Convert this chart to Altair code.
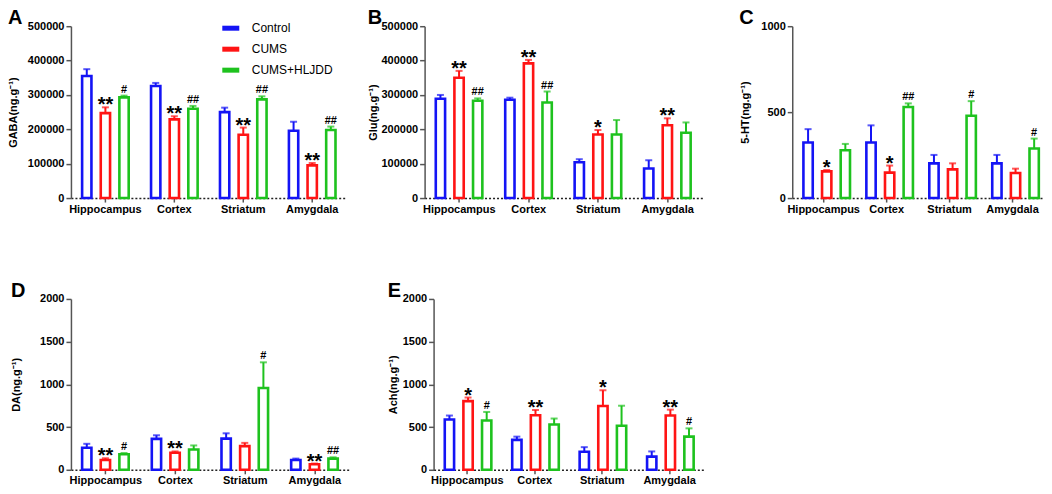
import altair as alt
import pandas as pd

regions = ["Hippocampus", "Cortex", "Striatum", "Amygdala"]
groups = ["Control", "CUMS", "CUMS+HLJDD"]
colors = ["#1414f5", "#ff1414", "#1ec21e"]

# Panel A: GABA
gaba_ctrl = [355000, 326000, 250000, 196000]
gaba_ctrl_err = [20000, 9000, 13000, 26000]
gaba_cums = [247000, 229000, 184000, 95000]
gaba_cums_err = [17000, 9000, 21000, 7000]
gaba_cums_sig = ["**", "**", "**", "**"]
gaba_hljdd = [293000, 260000, 287000, 198000]
gaba_hljdd_err = [5000, 8000, 9000, 10000]
gaba_hljdd_sig = ["#", "##", "##", "##"]

# Panel B: Glu
glu_ctrl = [289000, 286000, 104000, 86000]
glu_ctrl_err = [11000, 6000, 9000, 24000]
glu_cums = [350000, 392000, 185000, 212000]
glu_cums_err = [20000, 10000, 13000, 20000]
glu_cums_sig = ["**", "**", "*", "**"]
glu_hljdd = [283000, 278000, 185000, 190000]
glu_hljdd_err = [7000, 32000, 42000, 30000]
glu_hljdd_sig = ["##", "##", "", ""]

# Panel C: 5-HT
ht_ctrl = [323, 323, 202, 202]
ht_ctrl_err = [78, 100, 49, 49]
ht_cums = [155, 148, 167, 146]
ht_cums_err = [8, 41, 35, 25]
ht_cums_sig = ["*", "*", "", ""]
ht_hljdd = [278, 530, 479, 288]
ht_hljdd_err = [37, 21, 85, 58]
ht_hljdd_sig = ["", "##", "#", "#"]

# Panel D: DA
da_ctrl = [258, 362, 365, 115]
da_ctrl_err = [46, 42, 62, 16]
da_cums = [115, 200, 277, 65]
da_cums_err = [20, 15, 38, 8]
da_cums_sig = ["**", "**", "", "**"]
da_hljdd = [181, 238, 958, 131]
da_hljdd_err = [15, 47, 300, 15]
da_hljdd_sig = ["#", "", "#", "##"]

# Panel E: Ach
ach_ctrl = [588, 350, 212, 154]
ach_ctrl_err = [47, 38, 53, 61]
ach_cums = [804, 638, 746, 635]
ach_cums_err = [42, 62, 185, 69]
ach_cums_sig = ["*", "**", "*", "**"]
ach_hljdd = [577, 531, 515, 388]
ach_hljdd_err = [100, 69, 235, 97]
ach_hljdd_sig = ["#", "", "", "#"]

FONT = "Liberation Sans"


def make_df(c, ce, m, me, ms, h, he, hs):
    rows = []
    for i, r in enumerate(regions):
        rows.append(dict(region=r, group=groups[0], value=c[i], top=c[i] + ce[i], sig=""))
        rows.append(dict(region=r, group=groups[1], value=m[i], top=m[i] + me[i], sig=ms[i]))
        rows.append(dict(region=r, group=groups[2], value=h[i], top=h[i] + he[i], sig=hs[i]))
    return pd.DataFrame(rows)


def panel(df, letter, ytitle, ymax, yticks, width, height, extent, tpad, legend=None):
    xenc = alt.X("region:N", sort=regions, title=None,
                 scale=alt.Scale(paddingInner=0, paddingOuter=0),
                 axis=alt.Axis(labelAngle=0, ticks=True, tickSize=4))
    xoff = alt.XOffset("group:N", sort=groups,
                       scale=alt.Scale(paddingInner=0.5, paddingOuter=0.6))
    yscale = alt.Scale(domain=[0, ymax], nice=False)
    yaxis = alt.Axis(values=yticks, format="d", title=ytitle,
                     minExtent=extent, maxExtent=extent, titlePadding=tpad)
    cscale = alt.Scale(domain=groups, range=colors)
    base = alt.Chart(df)
    bars = base.mark_bar(filled=False, strokeWidth=2.6).encode(
        x=xenc, xOffset=xoff,
        y=alt.Y("value:Q", scale=yscale, axis=yaxis),
        color=alt.Color("group:N", sort=groups, scale=cscale, legend=legend),
    )
    err = base.mark_rule(strokeWidth=2).encode(
        x=xenc, xOffset=xoff,
        y=alt.Y("value:Q", scale=yscale, axis=yaxis), y2="top:Q",
        color=alt.Color("group:N", sort=groups, scale=cscale, legend=None),
    )
    cap = base.mark_tick(thickness=2, size=7).encode(
        x=xenc, xOffset=xoff,
        y=alt.Y("top:Q", scale=yscale, axis=yaxis),
        color=alt.Color("group:N", sort=groups, scale=cscale, legend=None),
    )
    stars = base.transform_filter("indexof(datum.sig, '*') >= 0").mark_text(
        font=FONT, fontSize=20, fontWeight="bold", baseline="alphabetic", dy=4, color="black"
    ).encode(x=xenc, xOffset=xoff, y=alt.Y("top:Q", scale=yscale, axis=yaxis), text="sig:N")
    hashes = base.transform_filter("indexof(datum.sig, '#') >= 0").mark_text(
        font=FONT, fontSize=11, fontWeight="bold", baseline="alphabetic", dy=-3, color="black"
    ).encode(x=xenc, xOffset=xoff, y=alt.Y("top:Q", scale=yscale, axis=yaxis), text="sig:N")
    return alt.layer(bars, err, cap, stars, hashes).properties(
        width=width, height=height,
        title=alt.TitleParams(letter),
    )


legendA = alt.Legend(title=None, orient="none", legendX=149, legendY=-9,
                     symbolType="stroke", symbolStrokeWidth=5, symbolSize=289,
                     labelFont=FONT, labelFontSize=12, labelOffset=10,
                     rowPadding=-3, padding=0, labelColor="black")

A = panel(make_df(gaba_ctrl, gaba_ctrl_err, gaba_cums, gaba_cums_err, gaba_cums_sig,
                  gaba_hljdd, gaba_hljdd_err, gaba_hljdd_sig),
          "A", "GABA(ng.g⁻¹)", 500000, [0, 100000, 200000, 300000, 400000, 500000],
          276, 172, 48, 4, legendA)
B = panel(make_df(glu_ctrl, glu_ctrl_err, glu_cums, glu_cums_err, glu_cums_sig,
                  glu_hljdd, glu_hljdd_err, glu_hljdd_sig),
          "B", "Glu(ng.g⁻¹)", 500000, [0, 100000, 200000, 300000, 400000, 500000],
          278, 172, 44, 2)
C = panel(make_df(ht_ctrl, ht_ctrl_err, ht_cums, ht_cums_err, ht_cums_sig,
                  ht_hljdd, ht_hljdd_err, ht_hljdd_sig),
          "C", "5-HT(ng.g⁻¹)", 1000, [0, 500, 1000],
          252, 172, 40, 2)
D = panel(make_df(da_ctrl, da_ctrl_err, da_cums, da_cums_err, da_cums_sig,
                  da_hljdd, da_hljdd_err, da_hljdd_sig),
          "D", "DA(ng.g⁻¹)", 2000, [0, 500, 1000, 1500, 2000],
          279, 171, 47, 2)
E = panel(make_df(ach_ctrl, ach_ctrl_err, ach_cums, ach_cums_err, ach_cums_sig,
                  ach_hljdd, ach_hljdd_err, ach_hljdd_sig),
          "E", "Ach(ng.g⁻¹)", 2000, [0, 500, 1000, 1500, 2000],
          270, 171, 33, 2)

row1 = alt.hconcat(alt.hconcat(A, B, spacing=21), C, spacing=37)
row2 = alt.hconcat(D, E, spacing=38)

chart = alt.vconcat(row1, row2, spacing=67).properties(
    padding=0, background="white"
).configure_view(stroke=None).configure_axis(
    labelFont=FONT, titleFont=FONT, labelFontWeight="bold", titleFontWeight="bold",
    labelColor="black", titleColor="black", domainColor="#555", tickColor="#555",
    domainWidth=1.5, tickWidth=1.5, grid=False,
).configure_axisX(
    domainDash=[2, 2], domainColor="#222", labelFontSize=11, tickSize=4, labelPadding=1,
).configure_axisY(
    labelFontSize=11, titleFontSize=11, tickSize=5, labelPadding=2,
).configure_title(
    font=FONT, fontSize=20, fontWeight="bold", anchor="start", color="black", offset=-8,
)

chart.save("out.html", embed_options={"renderer": "svg", "actions": False})
